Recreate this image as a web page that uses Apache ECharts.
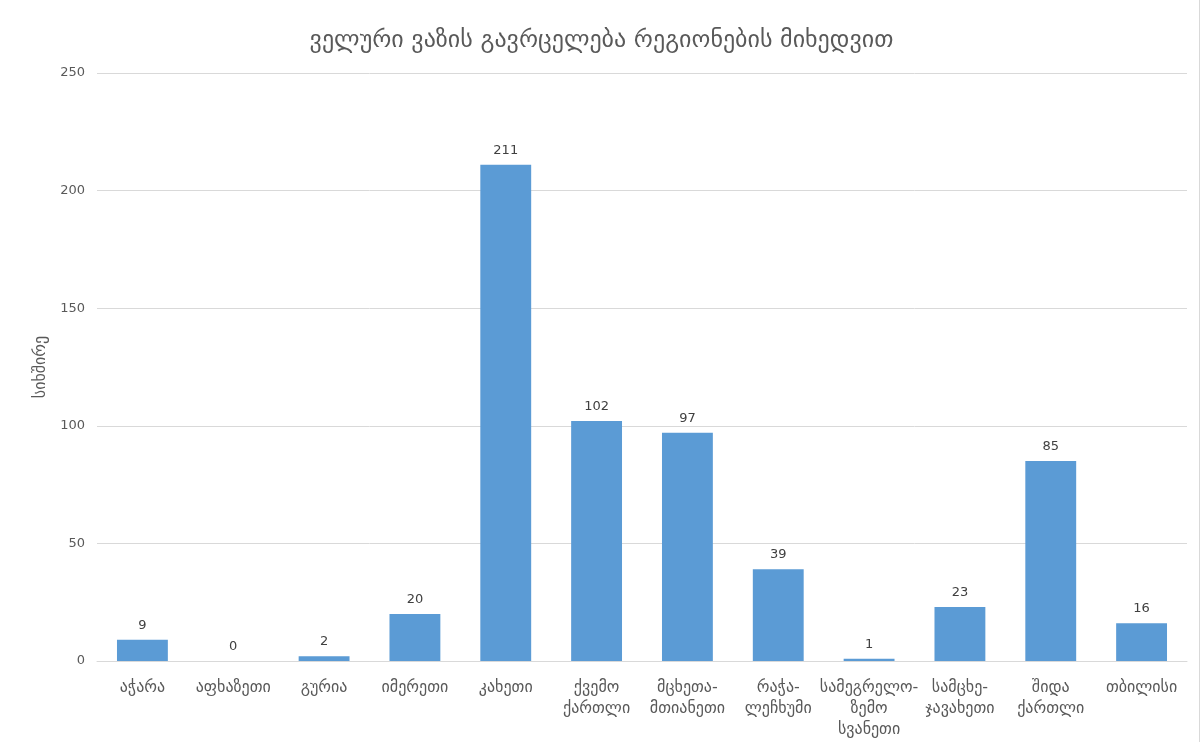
<!DOCTYPE html>
<html><head><meta charset="utf-8">
<script src="https://cdn.jsdelivr.net/npm/echarts@6/dist/echarts.min.js"></script>
<style>html,body{margin:0;padding:0;background:#fff}#c{width:1203px;height:742px}</style>
</head><body><div id="c"></div>
<script>
const title = 'ველური ვაზის გავრცელება რეგიონების მიხედვით';
const yAxisName = 'სიხშირე';
const categories = ['აჭარა','აფხაზეთი','გურია','იმერეთი','კახეთი','ქვემო ქართლი','მცხეთა-მთიანეთი','რაჭა-ლეჩხუმი','სამეგრელო-ზემო სვანეთი','სამცხე-ჯავახეთი','შიდა ქართლი','თბილისი'];
const values = [9,0,2,20,211,102,97,39,1,23,85,16];
const yTicks = {min:0,max:250,interval:50};

const FONT = 'DejaVu Sans';
const chart = echarts.init(document.getElementById('c'));
chart.setOption({
  animation:false,
  textStyle:{fontFamily:FONT},
  title:{text:title,left:'center',top:24,textStyle:{fontFamily:FONT,fontSize:24,fontWeight:'normal',color:'#595959'}},
  grid:{left:97,right:16,top:73,bottom:81,containLabel:false},
  xAxis:{type:'category',data:categories,
    axisLine:{lineStyle:{color:'#d9d9d9'}},axisTick:{show:false},
    axisLabel:{interval:0,color:'#595959',fontSize:16,lineHeight:21,margin:16,
      formatter:v=>v.replace(/ /g,'\n').replace(/-/g,'-\n')}},
  yAxis:{type:'value',min:yTicks.min,max:yTicks.max,interval:yTicks.interval,
    name:yAxisName,nameLocation:'middle',nameRotate:90,nameGap:40,
    nameTextStyle:{color:'#595959',fontSize:16,fontFamily:FONT},
    axisLine:{show:false},axisTick:{show:false},
    axisLabel:{color:'#595959',fontSize:13,margin:12},
    splitLine:{lineStyle:{color:'#d9d9d9'}}},
  graphic:[{type:'line',shape:{x1:1199.5,y1:0,x2:1199.5,y2:742},style:{stroke:'#d9d9d9',lineWidth:1}}],
  series:[{type:'bar',data:values,barWidth:'56%',
    itemStyle:{color:'#5b9bd5'},
    label:{show:true,position:'top',color:'#404040',fontSize:13,distance:8}}]
});
</script></body></html>
